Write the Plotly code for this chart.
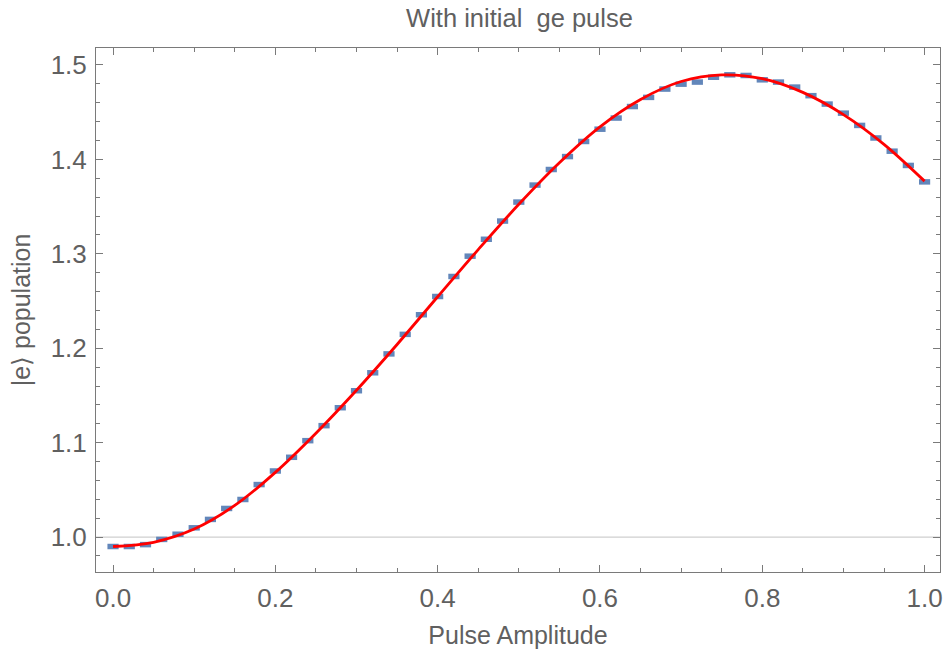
import plotly.graph_objects as go

# Measured data (pulse amplitude vs |e> population)
amp = [round(0.02 * i, 2) for i in range(51)]
pop = [0.990, 0.990, 0.992, 0.9975, 1.003, 1.0098, 1.0187, 1.0303, 1.0398, 1.0556,
       1.070, 1.0845, 1.1021, 1.118, 1.137, 1.155, 1.174, 1.194, 1.2147, 1.2355,
       1.2548, 1.276, 1.2975, 1.3154, 1.3347, 1.3548, 1.3728, 1.3893, 1.403, 1.419,
       1.432, 1.4438, 1.456, 1.4657, 1.4745, 1.4797, 1.4819, 1.487, 1.4896, 1.4889,
       1.4843, 1.4819, 1.4766, 1.4675, 1.4586, 1.449, 1.436, 1.4227, 1.4087, 1.3936,
       1.3762]

# Fit curve
fit_x = [0.00, 0.05, 0.10, 0.15, 0.20, 0.25, 0.30, 0.35, 0.40, 0.45, 0.50,
         0.55, 0.60, 0.65, 0.70, 0.75, 0.80, 0.85, 0.90, 0.95, 1.00]
fit_y = [0.990, 0.9945, 1.0085, 1.0335, 1.0685, 1.110, 1.1555, 1.204, 1.2545, 1.3045, 1.3525,
         1.3965, 1.4345, 1.4635, 1.4825, 1.4895, 1.4855, 1.4710, 1.4475, 1.416, 1.3770]

x_ticks = [0.0, 0.2, 0.4, 0.6, 0.8, 1.0]
x_tick_text = ["0.0", "0.2", "0.4", "0.6", "0.8", "1.0"]
y_ticks = [1.0, 1.1, 1.2, 1.3, 1.4, 1.5]
y_tick_text = ["1.0", "1.1", "1.2", "1.3", "1.4", "1.5"]

axis_col = "#7a7a7a"
text_col = "#606060"
font_fam = "Liberation Sans, Arial, sans-serif"

fig = go.Figure()
fig.add_trace(go.Scatter(
    x=amp, y=pop, mode="markers",
    marker=dict(symbol="line-ew", size=8, line=dict(width=5.5, color="#6286BA")),
    showlegend=False))
fig.add_trace(go.Scatter(
    x=fit_x, y=fit_y, mode="lines", line=dict(color="#ff0000", width=2.8, shape="spline"),
    showlegend=False))

fig.add_hline(y=1.0, line=dict(color="#cfcfcf", width=1.3), layer="below")

common = dict(showgrid=False, zeroline=False, showline=True, linecolor=axis_col, linewidth=1,
              mirror="allticks", ticks="inside", tickcolor=axis_col, ticklen=7, tickwidth=1,
              tickfont=dict(size=26, color=text_col, family=font_fam))

fig.update_xaxes(range=[-0.021, 1.019], tickvals=x_ticks, ticktext=x_tick_text,
                 minor=dict(dtick=0.05, ticks="inside", ticklen=4, tickcolor=axis_col),
                 title=dict(text="Pulse Amplitude", font=dict(size=25, color=text_col, family=font_fam),
                            standoff=14),
                 ticklabelstandoff=3, **common)
fig.update_yaxes(range=[0.963, 1.518], tickvals=y_ticks, ticktext=y_tick_text,
                 minor=dict(dtick=0.02, tick0=0, ticks="inside", ticklen=4, tickcolor=axis_col),
                 title=dict(text="|e⟩ population", font=dict(size=25, color=text_col, family=font_fam),
                            standoff=12),
                 ticklabelstandoff=3, **common)

fig.update_layout(
    width=950, height=661,
    margin=dict(l=96, r=7, t=48, b=89),
    paper_bgcolor="white", plot_bgcolor="white",
    title=dict(text="With initial  ge pulse", x=(96 + 943) / 2 / 950, xanchor="center",
               y=0.972, yanchor="middle",
               font=dict(size=25.5, color=text_col, family=font_fam)),
)

fig.write_html("out.html")
